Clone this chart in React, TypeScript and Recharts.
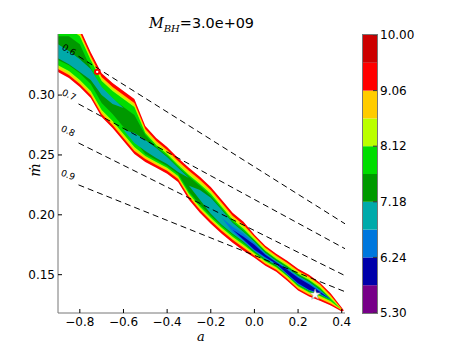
import React from "react"
import { ComposedChart, Area, XAxis, YAxis, ZAxis, ReferenceLine, Scatter, BarChart, Bar } from "recharts"

// spin grid (a) shared by all filled contour bands
const spin = [-0.9, -0.85, -0.8, -0.75, -0.7, -0.65, -0.6, -0.55, -0.5, -0.45, -0.4, -0.35, -0.3, -0.25, -0.2, -0.15, -0.1, -0.05, 0, 0.05, 0.1, 0.15, 0.2, 0.25, 0.3, 0.35, 0.4, 0.41]

// upper / lower mdot edge of each filled level (null = level absent)
const redTop = [0.3625, 0.3625, 0.3558, 0.3358, 0.3183, 0.31, 0.3033, 0.2967, 0.2742, 0.2642, 0.2567, 0.2475, 0.2392, 0.2317, 0.2233, 0.2125, 0.2017, 0.1942, 0.1833, 0.1742, 0.1675, 0.1617, 0.155, 0.15, 0.1433, 0.1342, 0.1225, 0.12]
const redBot = [0.3192, 0.3142, 0.3067, 0.2975, 0.2817, 0.2725, 0.2617, 0.2508, 0.2442, 0.2392, 0.2342, 0.2275, 0.2125, 0.2017, 0.1925, 0.1842, 0.1767, 0.17, 0.1642, 0.1575, 0.1525, 0.145, 0.1367, 0.1317, 0.1283, 0.1242, 0.1192, 0.12]

const orangeTop = [0.3592, 0.3592, 0.3525, 0.3325, 0.315, 0.3067, 0.3, 0.2933, 0.2717, 0.2617, 0.2542, 0.245, 0.2367, 0.2292, 0.2208, 0.21, 0.1992, 0.1917, 0.1817, 0.1725, 0.1658, 0.16, 0.1533, 0.1483, 0.1417, 0.1325, 0.1213, null]
const orangeBot = [0.3217, 0.3167, 0.3092, 0.3, 0.2842, 0.275, 0.2642, 0.2533, 0.2467, 0.2417, 0.2367, 0.23, 0.215, 0.2042, 0.195, 0.1867, 0.1792, 0.1725, 0.1658, 0.1592, 0.1542, 0.1467, 0.1383, 0.1333, 0.13, 0.1258, 0.1204, null]

const limeTop = [0.3575, 0.3575, 0.3508, 0.3308, 0.3133, 0.305, 0.2983, 0.2917, 0.27, 0.26, 0.2525, 0.2433, 0.235, 0.2275, 0.2192, 0.2083, 0.1975, 0.19, 0.1804, 0.1713, 0.1646, 0.1588, 0.1521, 0.1471, 0.1404, 0.1313, 0.1208, null]
const limeBot = [0.3233, 0.3183, 0.3108, 0.3017, 0.2858, 0.2767, 0.2658, 0.255, 0.2483, 0.2433, 0.2383, 0.2317, 0.2163, 0.2054, 0.1963, 0.1879, 0.1804, 0.1738, 0.1671, 0.1604, 0.1554, 0.1479, 0.1396, 0.1346, 0.1313, 0.1271, 0.1208, null]

const greenTop = [0.3558, 0.3558, 0.3492, 0.3292, 0.3117, 0.3033, 0.2967, 0.29, 0.2683, 0.2583, 0.2508, 0.2417, 0.2333, 0.2258, 0.2175, 0.2067, 0.1958, 0.1883, 0.1792, 0.17, 0.1633, 0.1575, 0.1508, 0.1458, 0.1392, 0.13, 0.1208, null]
const greenBot = [0.325, 0.32, 0.3125, 0.3033, 0.2875, 0.2783, 0.2675, 0.2567, 0.2492, 0.2442, 0.2392, 0.2325, 0.2175, 0.2067, 0.1975, 0.1892, 0.1817, 0.175, 0.1679, 0.1613, 0.1563, 0.1488, 0.1404, 0.1354, 0.1321, 0.1279, 0.1208, null]

const forestTop = [0.3492, 0.3492, 0.3425, 0.3225, 0.305, 0.2967, 0.29, 0.2833, 0.2667, 0.2567, 0.2492, 0.24, 0.2317, 0.2242, 0.2158, 0.205, 0.1942, 0.1867, 0.1783, 0.1692, 0.1625, 0.1567, 0.15, 0.145, 0.1383, 0.1292, null, null]
const forestBot = [0.3292, 0.325, 0.3183, 0.3092, 0.2933, 0.2842, 0.2733, 0.2625, 0.2508, 0.2458, 0.2408, 0.2342, 0.2192, 0.2083, 0.1992, 0.1908, 0.1833, 0.1767, 0.1688, 0.1621, 0.1571, 0.1496, 0.1413, 0.1363, 0.1329, 0.1292, null, null]

const tealUpTop = [0.3425, 0.3367, 0.33, 0.3217, 0.3067, 0.2975, 0.2892, null, null, null, null, null, null, null, null, null, null, null, null, null, null, null, null, null, null, null, null, null]
const tealUpBot = [0.3308, 0.3258, 0.3192, 0.3125, 0.3, 0.2925, 0.2892, null, null, null, null, null, null, null, null, null, null, null, null, null, null, null, null, null, null, null, null, null]

const tealMidTop = [null, null, null, null, null, null, 0.2708, 0.2683, 0.2625, 0.2558, 0.2483, 0.2392, 0.2308, null, null, null, null, null, null, null, null, null, null, null, null, null, null, null]
const tealMidBot = [null, null, null, null, null, null, 0.2708, 0.26, 0.2533, 0.2475, 0.2425, 0.2358, 0.2308, null, null, null, null, null, null, null, null, null, null, null, null, null, null, null]

const tealTop = [null, null, null, null, null, null, null, null, null, null, null, null, 0.2242, 0.2208, 0.2142, 0.2042, 0.1933, 0.1858, 0.1775, 0.1683, 0.1617, 0.1558, 0.1492, 0.1442, 0.1375, 0.1292, null, null]
const tealBot = [null, null, null, null, null, null, null, null, null, null, null, null, 0.2242, 0.2125, 0.2008, 0.1917, 0.1842, 0.1775, 0.1696, 0.1629, 0.1579, 0.15, 0.1417, 0.1367, 0.1333, 0.1292, null, null]

const blueTop = [null, null, null, null, null, null, null, null, null, null, null, null, null, null, null, 0.1975, 0.19, 0.1842, 0.1767, 0.1675, 0.1608, 0.155, 0.1483, 0.1433, 0.1367, 0.1292, null, null]
const blueBot = [null, null, null, null, null, null, null, null, null, null, null, null, null, null, null, 0.1975, 0.1858, 0.1783, 0.17, 0.1638, 0.1588, 0.1504, 0.1421, 0.1371, 0.1338, 0.1292, null, null]

const navyTop = [null, null, null, null, null, null, null, null, null, null, null, null, null, null, null, null, 0.1875, 0.1817, 0.175, 0.1667, 0.1604, 0.1542, 0.1475, 0.1421, 0.1358, 0.1292, null, null]
const navyBot = [null, null, null, null, null, null, null, null, null, null, null, null, null, null, null, null, 0.1875, 0.1792, 0.1708, 0.1646, 0.1592, 0.1508, 0.1429, 0.1375, 0.1342, 0.1292, null, null]

// dashed efficiency lines: labels and end points (a, mdot)
const effLabels = ["0.6", "0.7", "0.8", "0.9"]
const effStartA = [-0.806, -0.806, -0.806, -0.806]
const effStartMdot = [0.3324, 0.2926, 0.26, 0.225]
const effEndA = [0.415, 0.415, 0.415, 0.415]
const effEndMdot = [0.1925, 0.1717, 0.1492, 0.1358]

const bestFit = [{ a: 0.278, mdot: 0.1333 }]
const island = [{ a: -0.7204, mdot: 0.3194 }]

const xTicks = [-0.8, -0.6, -0.4, -0.2, 0, 0.2, 0.4]
const yTicks = [0.15, 0.2, 0.25, 0.3]

// colorbar
const cbLevels = [5.3, 5.77, 6.24, 6.71, 7.18, 7.65, 8.12, 8.59, 9.06, 9.53, 10.0]
const cbTicks = [5.3, 6.24, 7.18, 8.12, 9.06, 10.0]
const cbColors = ["#770088", "#0000aa", "#0077dd", "#00aaaa", "#009900", "#00dd00", "#bbff00", "#ffcc00", "#ff0000", "#cc0000"]

const layers = [
  { key: "red", top: redTop, bot: redBot, fill: "#ff0000" },
  { key: "orange", top: orangeTop, bot: orangeBot, fill: "#ffcc00" },
  { key: "lime", top: limeTop, bot: limeBot, fill: "#bbff00" },
  { key: "green", top: greenTop, bot: greenBot, fill: "#00dd00" },
  { key: "forest", top: forestTop, bot: forestBot, fill: "#009900" },
  { key: "tealUp", top: tealUpTop, bot: tealUpBot, fill: "#00aaaa" },
  { key: "tealMid", top: tealMidTop, bot: tealMidBot, fill: "#00aaaa" },
  { key: "teal", top: tealTop, bot: tealBot, fill: "#00aaaa" },
  { key: "blue", top: blueTop, bot: blueBot, fill: "#0077dd" },
  { key: "navy", top: navyTop, bot: navyBot, fill: "#0000aa" },
]

const rows = spin.map((a, i) => {
  const row: any = { a }
  layers.forEach((l) => {
    const t = l.top[i]
    const b = l.bot[i]
    row[l.key] = t == null || b == null ? null : [b, t]
  })
  return row
})

const cbRow: any = { name: "cb", base: cbLevels[0] }
cbColors.forEach((_, i) => {
  cbRow["s" + i] = cbLevels[i + 1] - cbLevels[i]
})
const cbRows = [cbRow]

// label placement for the inline contour labels
const effLabelPos = [
  { left: 69, top: 50, rot: 30 },
  { left: 69, top: 95, rot: 27 },
  { left: 68, top: 131, rot: 25 },
  { left: 68, top: 175, rot: 21 },
]

const fmtA = (v: number) => v.toFixed(1).replace("-", "\u2212")
const axisColor = "#777"
const tickStyle = { fill: "#000", fontSize: 12 }

export default function App() {
  return (
    <div style={{ position: "absolute", left: 0, top: 0, width: 463, height: 348, background: "#fff", fontFamily: "'DejaVu Sans', sans-serif" }}>
      <ComposedChart width={463} height={348} data={rows} margin={{ top: 34, right: 118, bottom: 0, left: 0 }}>
        <XAxis
          dataKey="a"
          type="number"
          domain={[-0.9, 0.415]}
          allowDataOverflow
          ticks={xTicks}
          interval={0}
          tickFormatter={fmtA}
          height={35}
          tickSize={-4}
          tickMargin={8}
          stroke={axisColor}
          tick={tickStyle}
          tickLine={{ stroke: "#000" }}
        />
        <XAxis
          xAxisId="top"
          orientation="top"
          type="number"
          domain={[-0.9, 0.415]}
          allowDataOverflow
          ticks={xTicks}
          interval={0}
          height={0}
          tick={false}
          tickSize={-4}
          stroke={axisColor}
          tickLine={{ stroke: "#000" }}
        />
        <YAxis
          type="number"
          domain={[0.118, 0.351]}
          allowDataOverflow
          ticks={yTicks}
          interval={0}
          tickFormatter={(v: number) => v.toFixed(2)}
          width={58}
          tickSize={-4}
          tickMargin={7}
          stroke={axisColor}
          tick={tickStyle}
          tickLine={{ stroke: "#000" }}
        />
        <YAxis
          yAxisId="right"
          orientation="right"
          type="number"
          domain={[0.118, 0.351]}
          allowDataOverflow
          ticks={yTicks}
          interval={0}
          width={0}
          tick={false}
          tickSize={-4}
          stroke={axisColor}
          tickLine={{ stroke: "#000" }}
        />
        <ZAxis range={[36, 36]} />
        {layers.map((l) => (
          <Area
            key={l.key}
            dataKey={l.key}
            type="linear"
            fill={l.fill}
            fillOpacity={1}
            stroke="none"
            activeDot={false}
            isAnimationActive={false}
          />
        ))}
        {effLabels.map((lab, i) => (
          <ReferenceLine
            key={lab}
            segment={[
              { x: effStartA[i], y: effStartMdot[i] },
              { x: effEndA[i], y: effEndMdot[i] },
            ]}
            stroke="#000"
            strokeWidth={1}
            strokeDasharray="6 4"
            ifOverflow="visible"
          />
        ))}
        <Scatter
          data={island}
          dataKey="mdot"
          isAnimationActive={false}
          shape={(p: any) => <circle cx={p.cx} cy={p.cy} r={2.2} fill="#fff" stroke="#ff0000" strokeWidth={2} />}
        />
        <Scatter data={bestFit} dataKey="mdot" shape="star" fill="#fff" stroke="#999" strokeWidth={0.6} isAnimationActive={false} />
      </ComposedChart>

      <div style={{ position: "absolute", left: 320, top: 0 }}>
        <BarChart width={143} height={348} data={cbRows} margin={{ top: 35, right: 0, bottom: 35, left: 43 }} barCategoryGap={0}>
          <XAxis dataKey="name" hide />
          <YAxis
            orientation="right"
            type="number"
            domain={[5.3, 10]}
            allowDataOverflow
            ticks={cbTicks}
            interval={0}
            tickFormatter={(v: number) => v.toFixed(2)}
            width={86}
            axisLine={false}
            tickSize={-4}
            tickMargin={7}
            tick={tickStyle}
            tickLine={{ stroke: "#333" }}
          />
          <Bar dataKey="base" stackId="cb" fill="none" isAnimationActive={false} />
          {cbColors.map((c, i) => (
            <Bar key={c} dataKey={"s" + i} stackId="cb" fill={c} isAnimationActive={false} />
          ))}
        </BarChart>
      </div>
      <div style={{ position: "absolute", left: 362, top: 34, width: 16, height: 280, boxSizing: "border-box", border: "1px solid #777", pointerEvents: "none" }} />

      <div style={{ position: "absolute", left: 0, width: 403, top: 14, textAlign: "center", fontSize: 14.4, lineHeight: "18px", whiteSpace: "nowrap" }}>
        <span style={{ fontFamily: "'DejaVu Serif', serif", fontStyle: "italic" }}>
          M<span style={{ fontSize: 10, position: "relative", top: 4 }}>BH</span>
        </span>
        =3.0e+09
      </div>
      <div style={{ position: "absolute", left: 35, top: 170, transform: "translate(-50%, -50%) rotate(-90deg)", fontFamily: "'DejaVu Serif', serif", fontStyle: "italic", fontSize: 14 }}>
        ṁ
      </div>
      <div style={{ position: "absolute", left: 201, top: 336, transform: "translate(-50%, -50%)", fontFamily: "'DejaVu Serif', serif", fontStyle: "italic", fontSize: 13, lineHeight: "13px" }}>
        a
      </div>
      {effLabels.map((lab, i) => (
        <div
          key={lab}
          style={{
            position: "absolute",
            left: effLabelPos[i].left,
            top: effLabelPos[i].top,
            transform: `translate(-50%, -50%) rotate(${effLabelPos[i].rot}deg)`,
            fontSize: 9,
            lineHeight: "10px",
          }}
        >
          {lab}
        </div>
      ))}
    </div>
  )
}
